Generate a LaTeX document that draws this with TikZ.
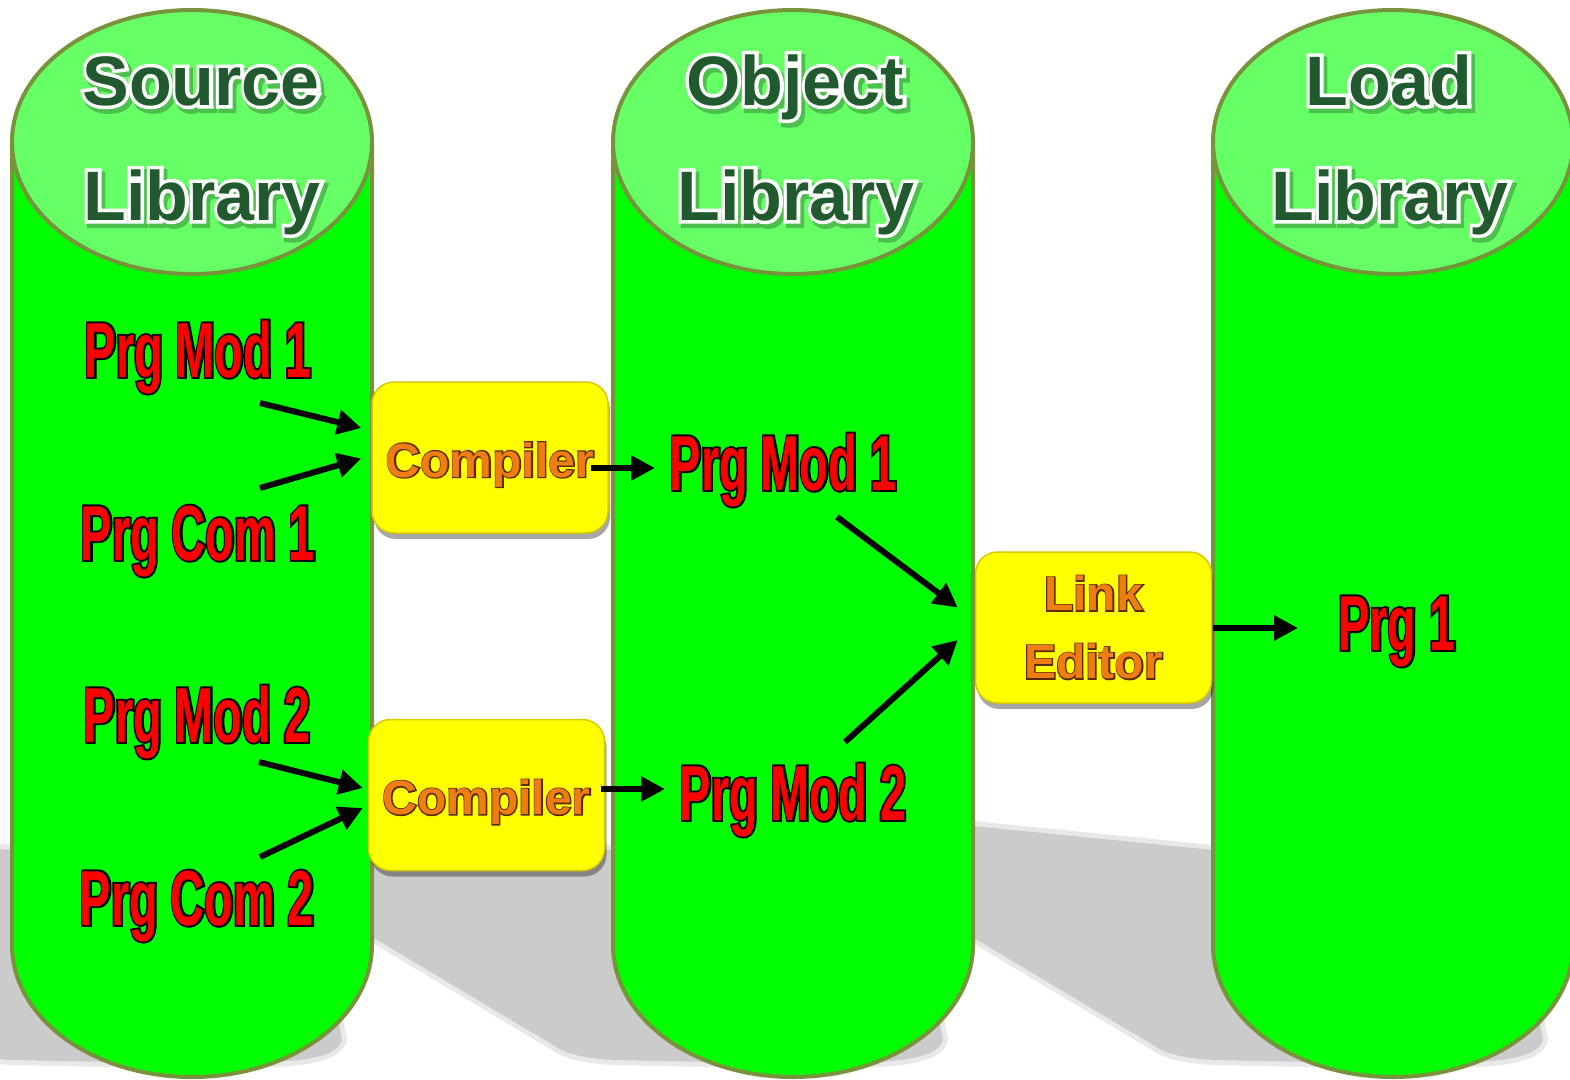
\documentclass[tikz,border=0pt]{standalone}
\usepackage{fontspec}
\setmainfont{Liberation Sans}
\newfontfamily\redfont[FakeStretch=0.6]{Liberation Sans Bold}
\newfontfamily\redfontO[FakeStretch=0.6,FakeBold=5]{Liberation Sans Bold}
\newfontfamily\titlefont{Liberation Sans Bold}
\newfontfamily\titlefontO[FakeBold=10]{Liberation Sans Bold}
\newfontfamily\titlefontS[FakeBold=12]{Liberation Sans Bold}
\newfontfamily\cmpfont{Liberation Sans Bold}
\newfontfamily\cmpfontO[FakeBold=5]{Liberation Sans Bold}
\usetikzlibrary{shadows,arrows.meta,calc}
\definecolor{cylline}{HTML}{77933C}
\definecolor{cylbody}{HTML}{00FF00}
\definecolor{cyltop}{HTML}{66FF66}
\definecolor{titlegreen}{HTML}{215A2E}
\definecolor{titleshadow}{HTML}{4DBF4D}
\definecolor{shadowgray}{HTML}{CBCBCB}
\definecolor{boxyellow}{HTML}{FFFF00}
\definecolor{boxedge}{HTML}{D8C800}
\definecolor{comporange}{HTML}{EE7E12}
\definecolor{compedge}{HTML}{5C2A00}
\definecolor{prgred}{HTML}{FF0000}
% outlined text: an emboldened copy in the outline colour under a plain copy
\newcommand\ttl[1]{\rlap{\hspace*{3pt}\raisebox{-4pt}{\titlefontS\textcolor{titleshadow}{#1}}}\rlap{\titlefontO\textcolor{white}{#1}}\textcolor{titlegreen}{#1}}
\newcommand\prg[1]{\rlap{\redfontO\textcolor{black}{#1}}\textcolor{prgred}{#1}}
\newcommand\cmp[1]{\rlap{\cmpfontO\textcolor{compedge}{#1}}\textcolor{comporange}{#1}}
\newcommand\shadowpath{(-440,818) .. controls (-452,810) and (-430,806) .. (-410,809) -- (300,880) -- (330,1040) .. controls (322,1066) and (250,1063) .. (150,1063) -- (0,1060) .. controls (-35,1058) and (-50,1052) .. (-60,1045) -- cycle}
\begin{document}
\begin{tikzpicture}[x=1pt,y=-1pt,
  titlestyle/.style={anchor=base,inner sep=0,font=\titlefont\fontsize{70}{84}\selectfont},
  prgstyle/.style={anchor=base,inner sep=0,font=\redfont\fontsize{78}{90}\selectfont},
  boxstyle/.style={draw=boxedge,line width=1.5pt,fill=boxyellow,rounded corners=22pt,
     minimum width=236pt,minimum height=151pt,inner sep=0,
     drop shadow={shadow xshift=2pt,shadow yshift=-6pt,opacity=0.35,fill=black},
     font=\cmpfont\fontsize{48}{68}\selectfont,align=center},
  arr/.style={line width=6pt,-{Triangle[length=24pt,width=24pt]}}]
\useasboundingbox (0,0) rectangle (1570,1079);
\clip (0,0) rectangle (1570,1079);
% cast shadows
\foreach \xo in {12,613,1213}{
  \begin{scope}[shift={(\xo,0)}]
    \draw[shadowgray,line width=10pt,opacity=0.45,line join=round] \shadowpath;
    \fill[shadowgray] \shadowpath;
  \end{scope}
}
% cylinders
\foreach \cx in {192,793,1393}{
  \fill[cylbody] (\cx-180,142) -- (\cx-180,945)
     .. controls (\cx-180,1017.9) and (\cx-99.4,1077) .. (\cx,1077)
     .. controls (\cx+99.4,1077) and (\cx+180,1017.9) .. (\cx+180,945)
     -- (\cx+180,142) -- cycle;
  \draw[cylline,line width=4pt] (\cx-180,142) -- (\cx-180,945)
     .. controls (\cx-180,1017.9) and (\cx-99.4,1077) .. (\cx,1077)
     .. controls (\cx+99.4,1077) and (\cx+180,1017.9) .. (\cx+180,945)
     -- (\cx+180,142);
  \draw[cylline,line width=4pt,fill=cyltop] (\cx,142) ellipse [x radius=180,y radius=132];
}
% titles
\node[titlestyle] (srcA) at (201,105) {\ttl{Source}};
\node[titlestyle] (srcB) at (202,220) {\ttl{Library}};
\node[titlestyle] (objA) at (795,105) {\ttl{Object}};
\node[titlestyle] (objB) at (796,220) {\ttl{Library}};
\node[titlestyle] (lodA) at (1389,105) {\ttl{Load}};
\node[titlestyle] (lodB) at (1390,220) {\ttl{Library}};
% boxes
\node[boxstyle,text height=49pt,text depth=10pt] (c1) at (490,457.5) {\cmp{Compiler}};
\node[boxstyle,text height=49pt,text depth=10pt] (c2) at (486.5,795) {\cmp{Compiler}};
\node[boxstyle] (le) at (1093.5,627.5) {\cmp{Link}\\\cmp{Editor}};
% red texts
\node[prgstyle] (sm1) at (198,377) {\prg{Prg Mod 1}};
\node[prgstyle] (sc1) at (198,560) {\prg{Prg Com 1}};
\node[prgstyle] (sm2) at (197,742) {\prg{Prg Mod 2}};
\node[prgstyle] (sc2) at (197,925) {\prg{Prg Com 2}};
\node[prgstyle] (om1) at (783,490) {\prg{Prg Mod 1}};
\node[prgstyle] (om2) at (793,820) {\prg{Prg Mod 2}};
\node[prgstyle] (lp1) at (1397,650) {\prg{Prg 1}};
% connector end points
\coordinate (a1s) at (260,403); \coordinate (a1e) at ($(c1.west)+(-10,-29.5)$);
\coordinate (a2s) at (260,488); \coordinate (a2e) at ($(c1.west)+(-10,1)$);
\coordinate (a3s) at ($(c1.east)+(-18,10.5)$); \coordinate (a3e) at (655,468);
\coordinate (a4s) at (837,517); \coordinate (a4e) at ($(le.west)+(-17,-20)$);
\coordinate (a5s) at (845,742); \coordinate (a5e) at ($(le.west)+(-17,12.5)$);
\coordinate (a6s) at (259,762); \coordinate (a6e) at ($(c2.west)+(-5,-7)$);
\coordinate (a7s) at (260,857); \coordinate (a7e) at ($(c2.west)+(-5,13)$);
\coordinate (a8s) at ($(c2.east)+(-4.5,-6)$); \coordinate (a8e) at (665,789);
\coordinate (a9s) at ($(le.east)+(1,0.5)$); \coordinate (a9e) at (1298,628);
\foreach \s/\e in {a1s/a1e,a2s/a2e,a3s/a3e,a4s/a4e,a5s/a5e,a6s/a6e,a7s/a7e,a8s/a8e,a9s/a9e}
  \draw[arr] (\s) -- (\e);
\end{tikzpicture}
\end{document}
